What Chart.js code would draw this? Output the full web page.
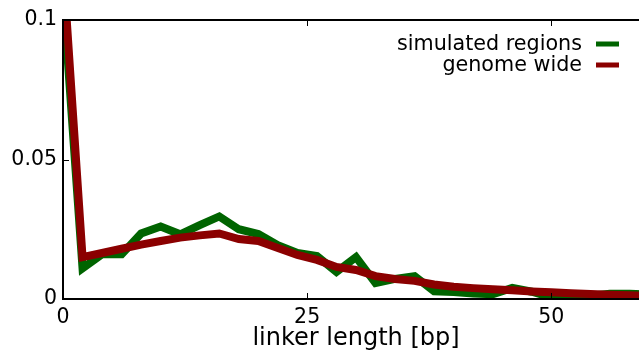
<!DOCTYPE html>
<html>
<head>
<meta charset="utf-8">
<script src="https://cdn.jsdelivr.net/npm/chart.js@4"></script>
<style>
    html, body { margin: 0; padding: 0; background: #fff; overflow: hidden; }
    #wrap { width: 639px; height: 353px; overflow: hidden; }
</style>
</head>
<body>
<div id="wrap"><canvas id="linker" width="652" height="353"></canvas></div>
<script>
// linker length in bp
var linkerLength = [0, 2, 4, 6, 8, 10, 12, 14, 16, 18, 20, 22, 24, 26, 28, 30,
                    32, 34, 36, 38, 40, 42, 44, 46, 48, 50, 52, 54, 56, 58, 60];
var simulatedRegions = [0.11, 0.011, 0.016, 0.016, 0.0235, 0.026, 0.0232, 0.0265, 0.0296, 0.025, 0.0233,
                        0.0193, 0.0165, 0.0154, 0.0097, 0.015, 0.0057, 0.0072, 0.0082, 0.0028, 0.0025,
                        0.002, 0.0017, 0.004, 0.0026, 0.0006, 0.0009, 0.0012, 0.0019, 0.0019, 0.0016];
var genomeWide = [0.12, 0.015, 0.0165, 0.018, 0.0195, 0.0208, 0.022, 0.0228, 0.0235, 0.0215, 0.0208,
                  0.0183, 0.0158, 0.014, 0.0115, 0.0104, 0.0082, 0.0072, 0.0065, 0.0052, 0.0044,
                  0.0039, 0.0035, 0.0031, 0.0027, 0.0024, 0.0021, 0.0018, 0.0015, 0.0013, 0.0011];
var xTicks = [0, 25, 50];
var xTickLabels = ["0", "25", "50"];
var yTicks = [0, 0.05, 0.1];
var yTickLabels = ["0", "0.05", "0.1"];

var FONT = "'DejaVu Sans', sans-serif";

document.addEventListener("DOMContentLoaded", function() {
    function points(values) {
        return values.map(function(v, i) { return { x: linkerLength[i], y: v }; });
    }

    // box around the plot, inward ticks and the legend at the top right
    var framePlugin = {
        id: 'frame',
        afterDatasetsDraw: function(chart) {
            var ctx = chart.ctx;
            var a = chart.chartArea;
            var xs = chart.scales.x, ys = chart.scales.y;
            ctx.save();
            ctx.strokeStyle = '#000';
            ctx.lineWidth = 2;
            ctx.strokeRect(a.left, a.top, a.right - a.left, a.bottom - a.top);
            ctx.lineWidth = 1;
            ctx.beginPath();
            xTicks.forEach(function(t) {
                var px = Math.round(xs.getPixelForValue(t)) + 0.5;
                ctx.moveTo(px, a.bottom); ctx.lineTo(px, a.bottom - 6);
                ctx.moveTo(px, a.top); ctx.lineTo(px, a.top + 6);
            });
            yTicks.forEach(function(t) {
                var py = Math.round(ys.getPixelForValue(t)) + 0.5;
                ctx.moveTo(a.left, py); ctx.lineTo(a.left + 6, py);
                ctx.moveTo(a.right, py); ctx.lineTo(a.right - 6, py);
            });
            ctx.stroke();

            ctx.font = '20.7px ' + FONT;
            ctx.textAlign = 'right';
            ctx.textBaseline = 'middle';
            chart.data.datasets.forEach(function(ds, i) {
                var y = 45 + i * 21;
                ctx.fillStyle = '#000';
                ctx.fillText(ds.label, 582, y);
                ctx.fillStyle = ds.borderColor;
                ctx.fillRect(596, y - 3.5, 23, 5);
            });
            ctx.restore();
        }
    };

    var ctx = document.getElementById('linker').getContext('2d');
    var linkerChart = new Chart(ctx, {
        type: 'line',
        data: {
            datasets: [{
                label: "simulated regions",
                data: points(simulatedRegions),
                borderColor: "#006400",
                borderWidth: 8,
                order: 1,
            }, {
                label: "genome wide",
                data: points(genomeWide),
                borderColor: "#8b0000",
                borderWidth: 8,
                order: 0,
            }]
        },
        options: {
            responsive: false,
            animation: false,
            devicePixelRatio: 1,
            layout: { padding: { left: 0, top: 20, right: 3, bottom: 0 } },
            elements: {
                point: { radius: 0 },
                line: { tension: 0, borderJoinStyle: 'miter', borderCapStyle: 'butt', fill: false },
            },
            datasets: { line: { clip: 0 } },
            scales: {
                x: {
                    type: 'linear',
                    min: 0,
                    max: 60,
                    afterBuildTicks: function(axis) {
                        axis.ticks = xTicks.map(function(v) { return { value: v }; });
                    },
                    afterFit: function(axis) { axis.height = 54; },
                    grid: { display: false, drawTicks: false },
                    border: { display: false },
                    ticks: {
                        padding: 6,
                        color: '#000',
                        font: { family: FONT, size: 20.5 },
                        maxRotation: 0,
                        callback: function(v) { return xTickLabels[xTicks.indexOf(v)]; },
                    },
                    title: {
                        display: true,
                        text: "linker length [bp]",
                        color: '#000',
                        font: { family: FONT, size: 24 },
                        padding: { top: 0, bottom: 0 },
                    },
                },
                y: {
                    min: 0,
                    max: 0.1,
                    afterBuildTicks: function(axis) {
                        axis.ticks = yTicks.map(function(v) { return { value: v }; });
                    },
                    afterFit: function(axis) { axis.width = 63; },
                    grid: { display: false, drawTicks: false },
                    border: { display: false },
                    ticks: {
                        padding: 6,
                        color: '#000',
                        font: { family: FONT, size: 20.5 },
                        callback: function(v) { return yTickLabels[yTicks.indexOf(v)]; },
                    },
                },
            },
            plugins: {
                legend: { display: false },
                tooltip: { enabled: false },
            },
        },
        plugins: [framePlugin],
    });
});
</script>
</body>
</html>
